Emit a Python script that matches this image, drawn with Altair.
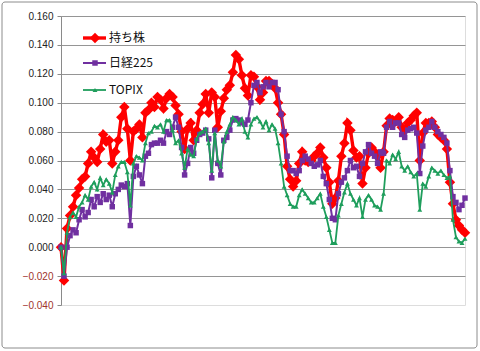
import altair as alt
import pandas as pd

names = ["持ち株", "日経225", "TOPIX"]

mochikabu = [0.000, -0.023, 0.013, 0.022, 0.028, 0.036, 0.041, 0.047, 0.049, 0.058,
             0.066, 0.062, 0.059, 0.068, 0.078, 0.073, 0.074, 0.058, 0.066, 0.074,
             0.090, 0.097, 0.082, 0.060, 0.080, 0.082, 0.085, 0.076, 0.093, 0.095,
             0.100, 0.097, 0.104, 0.102, 0.096, 0.103, 0.106, 0.104, 0.098, 0.092,
             0.080, 0.068, 0.082, 0.086, 0.074, 0.081, 0.093, 0.099, 0.106, 0.093,
             0.107, 0.104, 0.083, 0.094, 0.103, 0.109, 0.112, 0.121, 0.133, 0.130,
             0.119, 0.110, 0.105, 0.119, 0.118, 0.111, 0.102, 0.107, 0.115, 0.115,
             0.113, 0.110, 0.100, 0.092, 0.078, 0.056, 0.047, 0.042, 0.046, 0.058,
             0.066, 0.060, 0.059, 0.060, 0.063, 0.065, 0.069, 0.062, 0.055, 0.045,
             0.030, 0.034, 0.046, 0.063, 0.072, 0.086, 0.081, 0.067, 0.062, 0.063,
             0.044, 0.055, 0.065, 0.069, 0.066, 0.063, 0.055, 0.066, 0.084, 0.089,
             0.088, 0.087, 0.090, 0.083, 0.081, 0.086, 0.088, 0.091, 0.093, 0.060,
             0.079, 0.086, 0.086, 0.087, 0.083, 0.078, 0.076, 0.074, 0.068, 0.045,
             0.030, 0.019, 0.015, 0.012, 0.010]

nikkei = [0.000, -0.020, 0.000, 0.008, 0.012, 0.010, 0.019, 0.026, 0.021, 0.024,
          0.033, 0.028, 0.035, 0.031, 0.037, 0.033, 0.036, 0.028, 0.037, 0.040,
          0.043, 0.042, 0.044, 0.015, 0.049, 0.056, 0.050, 0.044, 0.063, 0.065,
          0.071, 0.072, 0.072, 0.074, 0.072, 0.080, 0.078, 0.083, 0.090, 0.083,
          0.069, 0.050, 0.058, 0.069, 0.065, 0.074, 0.078, 0.079, 0.081, 0.075,
          0.048, 0.081, 0.058, 0.050, 0.074, 0.076, 0.081, 0.088, 0.089, 0.088,
          0.086, 0.085, 0.088, 0.100, 0.112, 0.114, 0.107, 0.111, 0.114, 0.111,
          0.114, 0.114, 0.109, 0.092, 0.080, 0.063, 0.053, 0.053, 0.051, 0.053,
          0.060, 0.063, 0.061, 0.058, 0.056, 0.057, 0.060, 0.049, 0.044, 0.033,
          0.020, 0.019, 0.037, 0.045, 0.048, 0.053, 0.060, 0.055, 0.056, 0.049,
          0.058, 0.066, 0.071, 0.065, 0.063, 0.058, 0.066, 0.065, 0.083, 0.087,
          0.083, 0.086, 0.086, 0.078, 0.076, 0.081, 0.082, 0.083, 0.079, 0.051,
          0.070, 0.081, 0.083, 0.087, 0.083, 0.080, 0.078, 0.076, 0.072, 0.053,
          0.035, 0.031, 0.026, 0.029, 0.034]

topix = [0.000, -0.018, 0.010, 0.021, 0.024, 0.021, 0.028, 0.031, 0.036, 0.033,
         0.042, 0.045, 0.040, 0.048, 0.043, 0.047, 0.044, 0.038, 0.050, 0.056,
         0.059, 0.059, 0.052, 0.029, 0.058, 0.063, 0.062, 0.060, 0.072, 0.079,
         0.080, 0.084, 0.083, 0.085, 0.080, 0.088, 0.088, 0.081, 0.072, 0.074,
         0.065, 0.055, 0.068, 0.064, 0.063, 0.075, 0.079, 0.080, 0.082, 0.072,
         0.053, 0.079, 0.060, 0.056, 0.073, 0.080, 0.085, 0.090, 0.088, 0.085,
         0.089, 0.080, 0.076, 0.085, 0.089, 0.090, 0.087, 0.083, 0.087, 0.081,
         0.085, 0.082, 0.072, 0.058, 0.042, 0.036, 0.030, 0.028, 0.028, 0.036,
         0.040, 0.037, 0.034, 0.031, 0.031, 0.034, 0.037, 0.028, 0.021, 0.012,
         0.003, 0.003, 0.022, 0.030, 0.038, 0.044, 0.037, 0.033, 0.029, 0.034,
         0.021, 0.033, 0.036, 0.033, 0.029, 0.028, 0.026, 0.037, 0.060, 0.058,
         0.064, 0.061, 0.066, 0.056, 0.053, 0.056, 0.052, 0.049, 0.051, 0.026,
         0.044, 0.042, 0.049, 0.055, 0.053, 0.051, 0.053, 0.050, 0.048, 0.049,
         0.019, 0.007, 0.004, 0.003, 0.006]

y_ticks = [-0.04, -0.02, 0.0, 0.02, 0.04, 0.06, 0.08, 0.10, 0.12, 0.14, 0.16]

colors = ["#FF0000", "#7030A0", "#1F9E5C"]
shapes = ["diamond", "square", "triangle-up"]
sizes = [110, 30, 24]
widths = [3.4, 2, 1.8]
legend_y = [22, 47, 74]

x_scale = alt.Scale(domain=[0, len(mochikabu) - 1], nice=False, zero=False)
y_scale = alt.Scale(domain=[-0.04, 0.16], nice=False, zero=False)

y_axis = alt.Axis(
    values=y_ticks, format=".3f", title=None,
    labelFont="Liberation Sans", labelFontSize=10,
    labelColor={"condition": {"test": "datum.value < 0", "value": "#A0342C"}, "value": "#222222"},
    labelPadding=4, tickSize=4, tickColor="#8A8A8A", domainColor="#8A8A8A",
    gridColor="#959595", gridWidth=1,
    gridOpacity={"condition": {"test": "datum.value < -0.03", "value": 0}, "value": 1},
)

one = pd.DataFrame({"a": [0]})

frame = alt.Chart(one).mark_rect(
    fillOpacity=0, stroke="#8C8C8C", strokeWidth=1, cornerRadius=3
).encode(x=alt.value(-59), x2=alt.value(416), y=alt.value(-14), y2=alt.value(332))

grid_layer = alt.Chart(pd.DataFrame({"i": [0], "v": [0.0]})).mark_point(opacity=0).encode(
    x=alt.X("i:Q", scale=x_scale, axis=None),
    y=alt.Y("v:Q", scale=y_scale, axis=y_axis),
)

series_layers = []
legend_layers = []
for name, vals, c, sh, sz, w, ly in zip(names, [mochikabu, nikkei, topix], colors, shapes, sizes, widths, legend_y):
    df = pd.DataFrame({"i": list(range(len(vals))), "v": vals, "series": name})
    base = alt.Chart(df).encode(
        x=alt.X("i:Q", scale=x_scale, axis=None),
        y=alt.Y("v:Q", scale=y_scale, axis=y_axis),
    )
    series_layers.append(base.mark_line(color=c, strokeWidth=w))
    series_layers.append(base.mark_point(color=c, filled=True, shape=sh, size=sz, opacity=1))
    legend_layers.append(
        alt.Chart(one).mark_rule(color=c, strokeWidth=w).encode(
            x=alt.value(22), x2=alt.value(45), y=alt.value(ly)))
    legend_layers.append(
        alt.Chart(one).mark_point(color=c, filled=True, shape=sh, size=sz, opacity=1).encode(
            x=alt.value(34), y=alt.value(ly)))
    legend_layers.append(
        alt.Chart(one).mark_text(align="left", baseline="middle", font="Noto Sans CJK JP",
                                 fontSize=12, color="#111111").encode(
            x=alt.value(48), y=alt.value(ly), text=alt.value(name)))

chart = alt.layer(frame, grid_layer, *series_layers, *legend_layers).properties(
    width=404, height=289,
    padding={"left": 61, "top": 16, "right": 15, "bottom": 46},
    autosize=alt.AutoSizeParams(type="none"),
).configure_view(stroke=None).configure(background="white")

chart.save("out.html", embed_options={"renderer": "svg", "actions": False})
